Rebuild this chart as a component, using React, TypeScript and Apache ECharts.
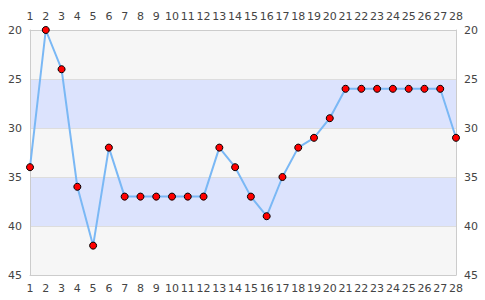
import React, { useEffect, useRef } from "react";
import * as echarts from "echarts";

const categories = Array.from({ length: 28 }, (_, i) => String(i + 1));
const values = [34, 20, 24, 36, 42, 32, 37, 37, 37, 37, 37, 37, 32, 34, 37, 39, 35, 32, 31, 29, 26, 26, 26, 26, 26, 26, 26, 31];
const yMin = 20;
const yMax = 45;
const yStep = 5;

export default function App() {
  const ref = useRef<HTMLDivElement>(null);
  useEffect(() => {
    const chart = echarts.init(ref.current!, null, { renderer: "svg" });
    const labelStyle = { color: "#444", fontSize: 11, fontFamily: "DejaVu Sans" };
    const xAxisBase = {
      type: "category" as const,
      data: categories,
      boundaryGap: false,
      axisLine: { show: true, lineStyle: { color: "#ccc" } },
      axisTick: { show: false },
      axisLabel: { ...labelStyle, interval: 0, margin: 8 },
      splitLine: { show: false },
    };
    const yAxisBase = {
      type: "value" as const,
      inverse: true,
      min: yMin,
      max: yMax,
      interval: yStep,
      axisLine: { show: true, lineStyle: { color: "#ccc" } },
      axisTick: { show: false },
      axisLabel: { ...labelStyle, margin: 8 },
    };
    chart.setOption({
      animation: false,
      backgroundColor: "#fff",
      grid: { left: 30, right: 29, top: 30, bottom: 25 },
      xAxis: [
        { ...xAxisBase, position: "bottom" },
        { ...xAxisBase, position: "top" },
      ],
      yAxis: [
        {
          ...yAxisBase,
          position: "left",
          splitLine: { show: true, lineStyle: { color: "#ddd" } },
          splitArea: { show: true, areaStyle: { color: ["#f6f6f6", "#dce3fd"] } },
        },
        { ...yAxisBase, position: "right", splitLine: { show: false } },
      ],
      series: [
        {
          type: "line",
          data: values,
          symbol: "circle",
          symbolSize: 7,
          lineStyle: { color: "#7ab8f5", width: 2 },
          itemStyle: { color: "#ff0000", borderColor: "#000", borderWidth: 1 },
        },
      ],
    });
    return () => chart.dispose();
  }, []);
  return <div ref={ref} style={{ width: 485, height: 300, position: "fixed", left: 0, top: 0 }} />;
}
